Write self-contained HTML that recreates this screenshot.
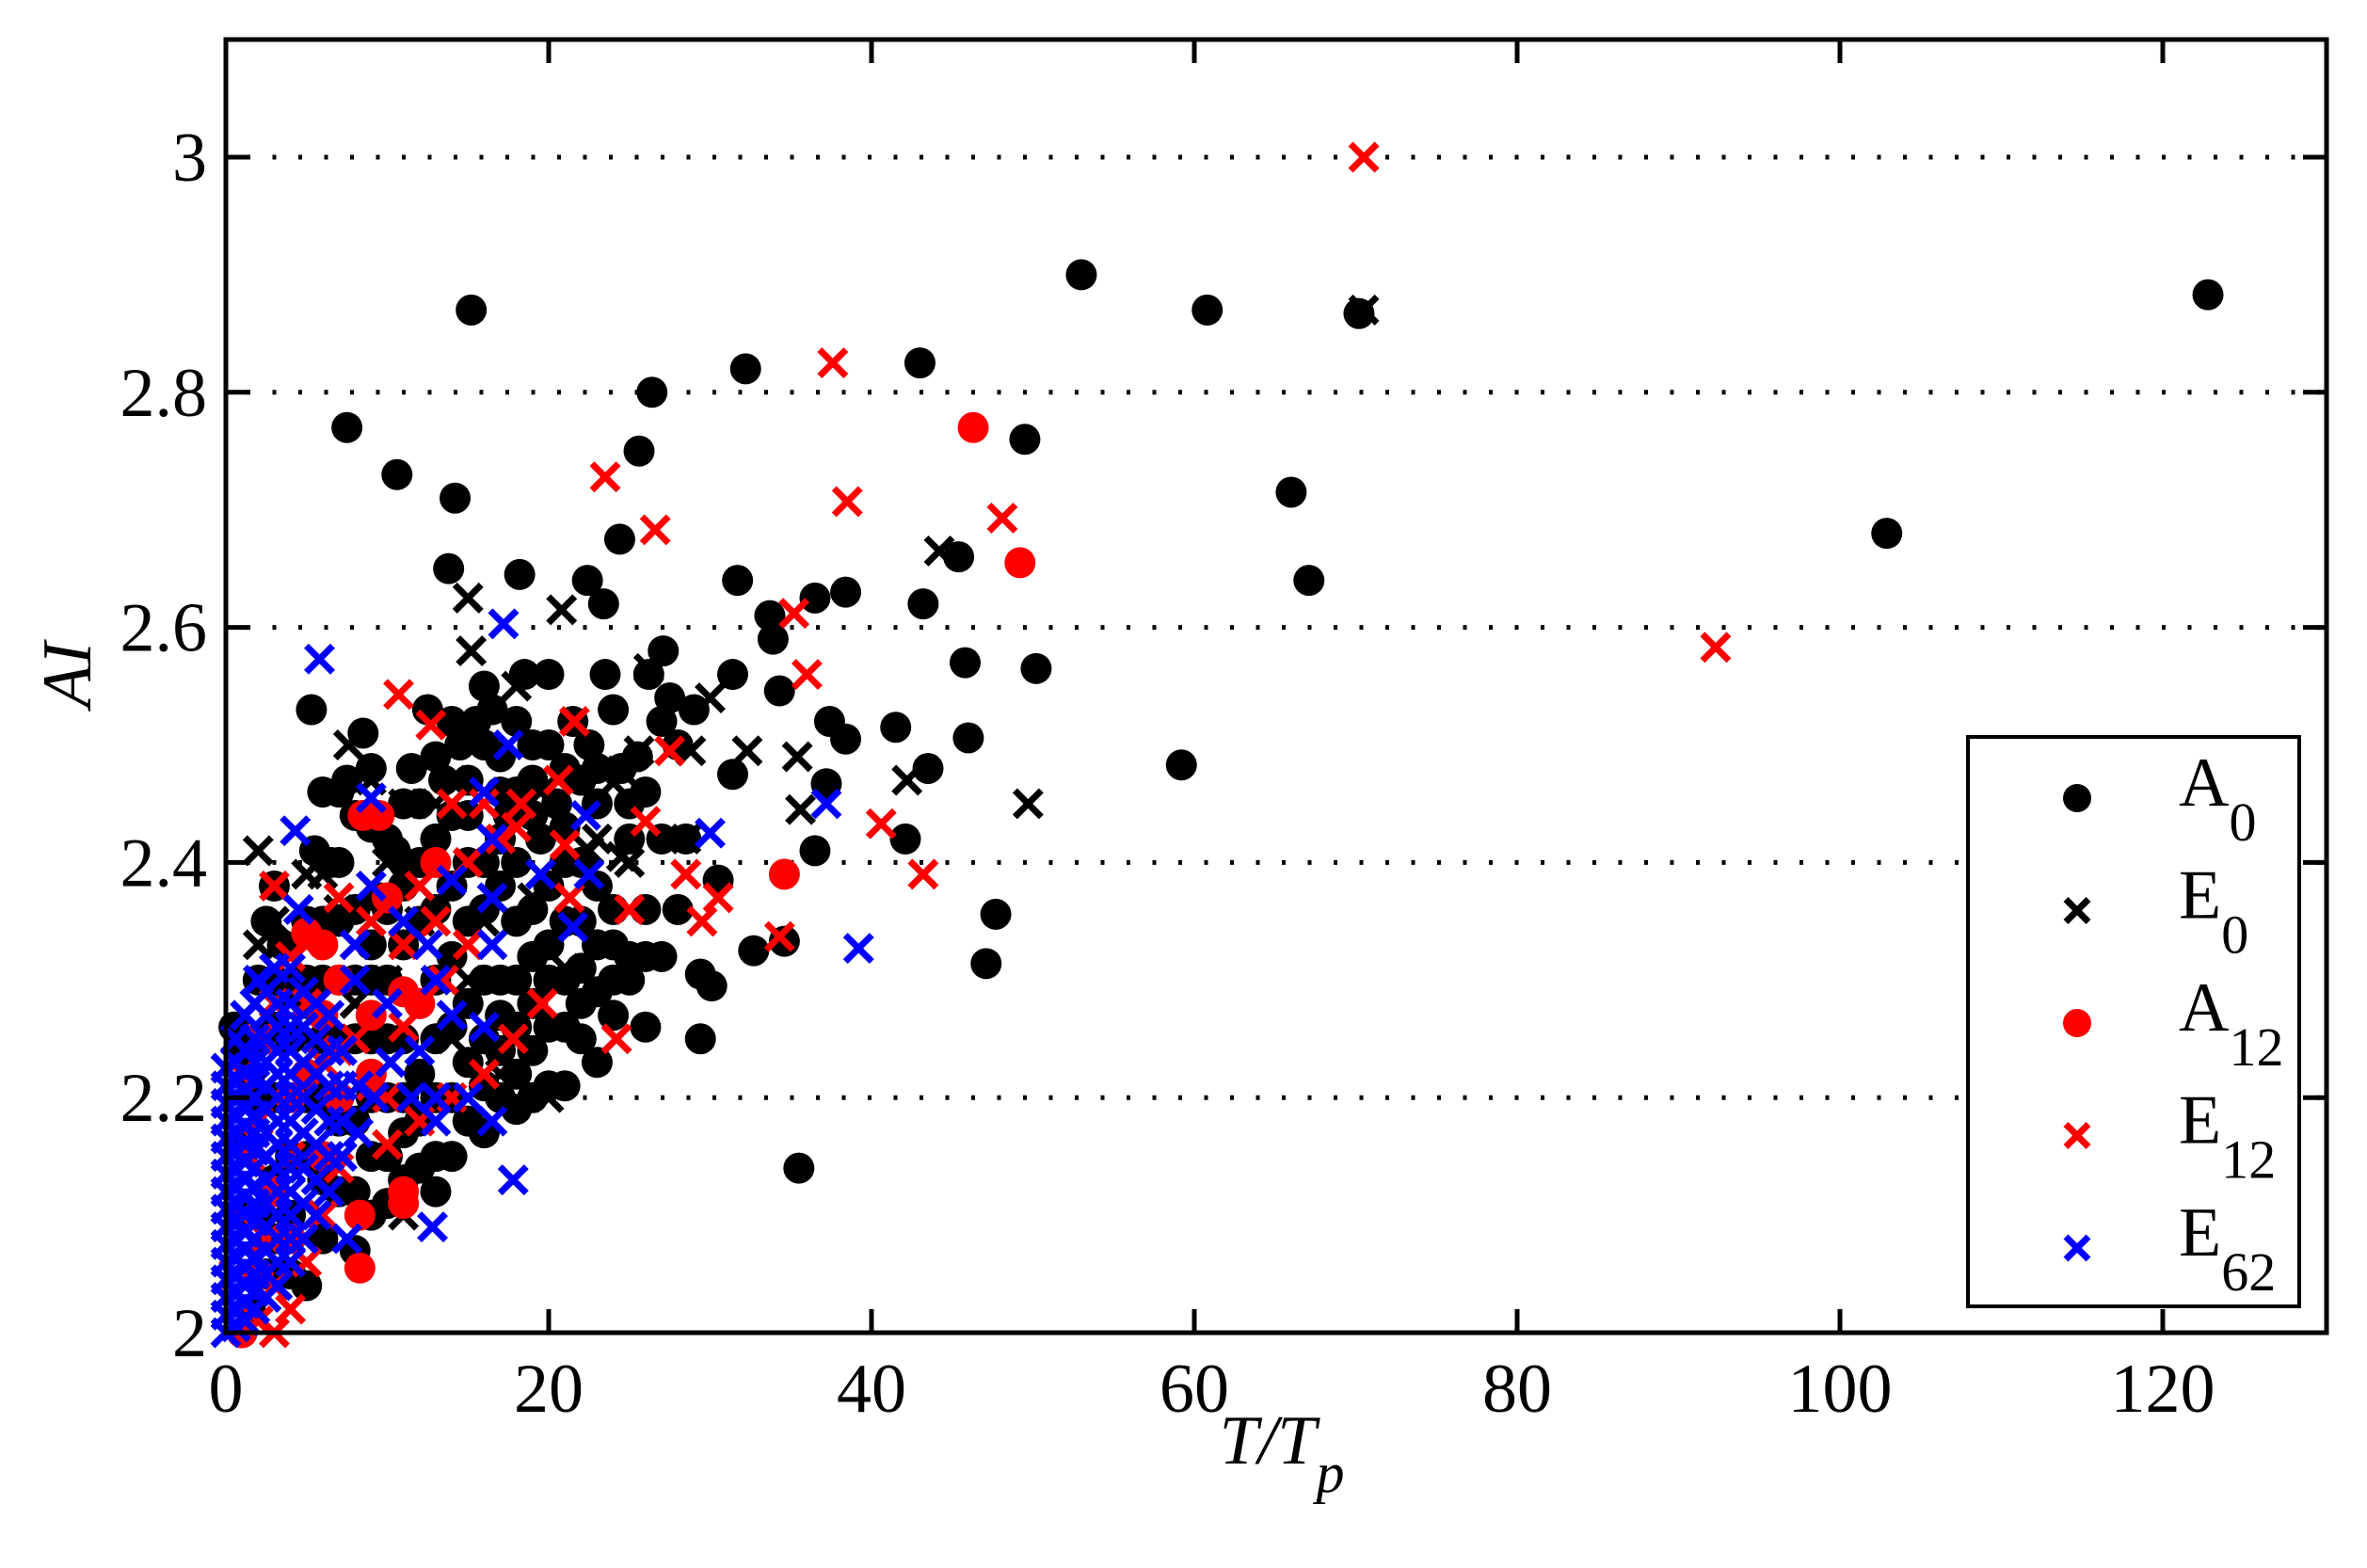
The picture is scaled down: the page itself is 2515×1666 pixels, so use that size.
<!DOCTYPE html>
<html><head><meta charset="utf-8"><style>
html,body{margin:0;padding:0;background:#fff;}
svg{display:block;font-family:"Liberation Serif",serif;}
</style></head><body>
<svg id="chart" width="2515" height="1666" viewBox="0 0 2515 1666" xmlns="http://www.w3.org/2000/svg">
<rect x="0" y="0" width="2515" height="1666" fill="#fff"/>
<g id="grid"></g>
<g id="marks"></g>
<g id="axes"></g>
<text x="1362" y="1555" font-size="74" font-style="italic" text-anchor="middle">T/T<tspan font-size="60" dy="30">p</tspan></text>
<text transform="translate(96,717) rotate(-90)" font-size="74" font-style="italic" text-anchor="middle">AI</text>
<g id="legend"></g>
</svg>
<script>
const xTicks=[0,20,40,60,80,100,120];
const yTicks=[2,2.2,2.4,2.6,2.8,3];
const yTickLabels=["2","2.2","2.4","2.6","2.8","3"];
const gridY=[2.2,2.4,2.6,2.8,3];
const seriesNames=["A","E","A","E","E"];
const seriesSubs=["0","0","12","12","62"];
const A0=[[15.2,2.87],[53,2.90],[60.8,2.87],[70.2,2.867],[122.8,2.883],[7.5,2.77],[10.6,2.73],[14.2,2.71],[26.4,2.80],[32.2,2.82],[43,2.825],[25.6,2.75],[24.4,2.675],[49.5,2.76],[66,2.715],[67.1,2.64],[102.9,2.68],[13.8,2.65],[18.2,2.645],[22.4,2.64],[23.4,2.62],[31.7,2.64],[43.2,2.62],[38.4,2.63],[36.5,2.625],[45.4,2.66],[45.8,2.57],[50.2,2.565],[59.2,2.483],[46,2.506],[41.5,2.515],[43.5,2.48],[35.5,2.14],[47.1,2.314],[47.7,2.356],[42.1,2.42],[36.5,2.41],[34.3,2.546],[33.9,2.59],[33.7,2.61],[31.4,2.56],[37.4,2.52],[38.4,2.505],[37.2,2.467],[31.4,2.475],[29.4,2.25],[30.1,2.295],[29.4,2.305],[30.5,2.385],[32.7,2.325],[34.6,2.333],[27.1,2.58],[26.2,2.56],[5.3,2.53],
[0.5,2.26],[1,2.24],[1.5,2.22],[2,2.3],[2.5,2.35],[3,2.38],[3.5,2.33],[4,2.29],[4.5,2.3],[5,2.35],[5.5,2.41],[6,2.46],[6.5,2.4],[7,2.46],[7.5,2.47],[8,2.44],[8.5,2.51],[9,2.48],[9.5,2.37],[10,2.42],[10.5,2.41],[11,2.38],[11.5,2.48],[12,2.45],[12.5,2.53],[13,2.49],[13.5,2.47],[14,2.52],[14.5,2.5],[15,2.47],[15.5,2.52],[16,2.55],[16.5,2.53],[17,2.49],[17.5,2.44],[18,2.46],[18.5,2.56],[19,2.5],[19.5,2.42],[20,2.56],[20.5,2.45],[21,2.43],[21.5,2.52],[22,2.47],[22.5,2.5],[23,2.45],[23.5,2.56],[24,2.53],[24.5,2.48],[25,2.42],[25.5,2.49],[26,2.46],[27,2.52],[27.5,2.54],[28,2.5],[28.5,2.42],[29,2.53],
[2,2.1],[3,2.13],[4,2.05],[5,2.04],[6,2.08],[7,2.12],[8,2.07],[9,2.15],[10,2.11],[11,2.17],[12,2.14],[13,2.15],[14,2.2],[15,2.18],[16,2.21],[17,2.24],[18,2.19],[19,2.2],[20,2.21],[21,2.26],[22,2.25],[23,2.23],[24,2.27],[25,2.3],[26,2.26],[27,2.32],[28,2.36],[20,2.33],[22,2.31],[24,2.33],[25,2.32],[26,2.32],
[3,2.2],[4,2.25],[5,2.28],[6,2.3],[7,2.35],[8,2.3],[9,2.33],[10,2.3],[11,2.25],[12,2.35],[13,2.3],[14,2.38],[15,2.35],[16,2.3],[17,2.38],[18,2.35],[19,2.32],[20,2.38],[21,2.35],[22,2.4],[23,2.38],[12,2.22],[14,2.26],[16,2.4],[18,2.26],[19,2.28],[17,2.3],[6,2.2],[8,2.18],[10,2.2],[13,2.42],[15,2.4],[11,2.4],[9,2.25],[7,2.25],[5,2.15],[4,2.15],[1,2.1],[2,2.2],[3,2.26],[1,2.16],[2.5,2.05],[1.5,2.02],
[15,2.28],[16,2.25],[17,2.27],[18,2.3],[19,2.36],[20,2.3],[21,2.3],[22,2.35],[23,2.33],[24,2.36],[21,2.4],[19,2.44],[17,2.42],[15,2.44],[13,2.36],[11,2.33],[9,2.3],[10,2.25],[12,2.28],[14,2.32],[16,2.36],[18,2.4],[20,2.26],[22,2.28],[19,2.24],[17,2.2],[15,2.23],[13,2.25],[11,2.2],[9,2.1],[7,2.18],[8,2.25],[6,2.25],[5,2.2],[4,2.1],[3,2.08],[10,2.15],[12,2.18],[14,2.15],[13,2.12],[16,2.17],[18,2.22],[21,2.21],[23,2.29],[24,2.3],[26,2.36],[27,2.42],[25,2.45],[23,2.48],[21,2.48],[19,2.47],[17,2.46],[12,2.4],[10,2.36],[8,2.36],[7,2.4],[9,2.43],[11,2.45],[14,2.44],[16,2.5],[18,2.52],[20,2.5],[6,2.35],[5,2.3],[3,2.3],[2,2.25],[6,2.13],[8,2.12],[9,2.2],[11,2.13],[7,2.3],[13,2.2]];
const E0=[[15,2.625],[20.8,2.615],[15.2,2.58],[44.2,2.665],[70.5,2.87],[49.7,2.45],[42.2,2.47],[35.6,2.445],[35.4,2.49],[32.3,2.495],[28.8,2.495],[28.5,2.42],[26.2,2.565],[25.6,2.495],[24.5,2.478],[24,2.468],[2,2.41],[7.6,2.5],[5,2.39],[14,2.47],[18,2.55],[19.5,2.46],[22.5,2.41],[24.5,2.405],[2,2.33],[4,2.3],[7,2.36],[10,2.3],[14,2.25],[20,2.2],[11,2.1],[18,2.26],[6,2.39],[9,2.47],[12,2.35],[16,2.35],[13,2.45],[25,2.4],[30,2.54],[23,2.42],[3,2.28],[5,2.25],[8,2.28],[10,2.4],[15,2.3],[17,2.22],[19,2.37],[21,2.31],[11,2.45],[3,2.35]];
const A12=[[46.3,2.77],[49.2,2.655],[34.6,2.39],[8.5,2.44],[9.5,2.44],[8.3,2.1],[8.3,2.055],[11,2.12],[11,2.11],[6,2.33],[13,2.4],[9,2.22],[10,2.37],[7,2.3],[5,2.34],[11,2.29],[4,2.2],[3,2.12],[2,2.05],[1,2.0],[12,2.28],[6,2.15],[9,2.27],[5,2.22],[7,2.2],[6,2.27],[4,2.08]];
const E12=[[70.5,3.0],[92.3,2.583],[37.6,2.825],[23.5,2.728],[26.6,2.683],[38.5,2.707],[48.1,2.693],[35.2,2.612],[36,2.56],[10.7,2.543],[12.7,2.517],[21.6,2.52],[20.6,2.47],[27.5,2.495],[28.5,2.39],[29.5,2.35],[30.5,2.37],[40.6,2.433],[43.2,2.39],[34.3,2.337],[24.2,2.25],[25,2.36],[26,2.435],[17.8,2.25],[18.3,2.45],[19.6,2.28],[21.3,2.37],[21,2.415],[14,2.45],[13.5,2.3],[16,2.22],[12,2.18],[10,2.16],[8,2.25],[7,2.37],[5,2.28],[3,2.38],[2,2.25],[4,2.15],[6,2.1],[3,2.0],[9,2.35],[11,2.33],[15,2.4],[17,2.42],[18,2.43],[1,2.1],[2,2.18],[5,2.33],[6,2.23],[8,2.33],[10,2.2],[12,2.38],[14,2.2],[16,2.45],[1,2.22],[3,2.28],[7,2.14],[9,2.21],[4,2.32],[0.5,2.05],[1.5,2.15],[2.5,2.08],[4,2.02],[2,2.01],[5,2.06],[3,2.04],[7,2.24],[11,2.26],[13,2.35],[15,2.33]];
const E62=[[5.8,2.573],[17.2,2.603],[4.3,2.427],[37.2,2.45],[39.2,2.327],[30,2.425],[17.8,2.13],[12.8,2.09],[22.3,2.44],[17.5,2.5],[9,2.455],[16,2.46],[16.5,2.42],[19.5,2.39],[22.5,2.39],[21.5,2.345],[16.5,2.37],[14,2.385],[12.5,2.33],[11,2.35],[13,2.3],[14,2.27],[16,2.26],[16.5,2.33],[15,2.2],[13,2.18],[12,2.24],[10,2.28],[9,2.38],[8,2.3],[7.5,2.08],[8,2.33],[11.5,2.2],[13,2.2],[16.5,2.18],
[0,2.0],[0,2.015],[0,2.03],[0,2.045],[0,2.06],[0,2.075],[0,2.09],[0,2.105],[0,2.12],[0,2.135],[0,2.15],[0,2.165],[0,2.18],[0,2.195],[0,2.21],[0,2.225],
[0.6,2.005],[0.6,2.02],[0.6,2.035],[0.6,2.05],[0.6,2.065],[0.6,2.08],[0.6,2.095],[0.6,2.11],[0.6,2.125],[0.6,2.14],[0.6,2.155],[0.6,2.17],[0.6,2.185],[0.6,2.2],[0.6,2.215],[0.6,2.23],[0.6,2.25],
[1.2,2.01],[1.2,2.025],[1.2,2.04],[1.2,2.055],[1.2,2.07],[1.2,2.085],[1.2,2.1],[1.2,2.115],[1.2,2.13],[1.2,2.145],[1.2,2.16],[1.2,2.175],[1.2,2.19],[1.2,2.205],[1.2,2.22],[1.2,2.24],[1.2,2.27],
[1.8,2.02],[1.8,2.035],[1.8,2.05],[1.8,2.065],[1.8,2.08],[1.8,2.095],[1.8,2.11],[1.8,2.125],[1.8,2.14],[1.8,2.155],[1.8,2.17],[1.8,2.185],[1.8,2.2],[1.8,2.215],[1.8,2.23],[1.8,2.25],[1.8,2.28],
[2.5,2.03],[2.5,2.05],[2.5,2.07],[2.5,2.09],[2.5,2.11],[2.5,2.13],[2.5,2.15],[2.5,2.17],[2.5,2.19],[2.5,2.21],[2.5,2.23],[2.5,2.25],[2.5,2.27],[2.5,2.29],
[3.2,2.04],[3.2,2.06],[3.2,2.08],[3.2,2.1],[3.2,2.12],[3.2,2.14],[3.2,2.16],[3.2,2.18],[3.2,2.2],[3.2,2.22],[3.2,2.24],[3.2,2.26],[3.2,2.28],
[4,2.06],[4,2.08],[4,2.1],[4,2.12],[4,2.14],[4,2.16],[4,2.18],[4,2.2],[4,2.22],[4,2.24],[4,2.26],[4,2.28],[4,2.31],
[4.8,2.08],[4.8,2.11],[4.8,2.14],[4.8,2.17],[4.8,2.2],[4.8,2.23],[4.8,2.26],[4.8,2.29],
[5.6,2.1],[5.6,2.13],[5.6,2.16],[5.6,2.19],[5.6,2.22],[5.6,2.25],[5.6,2.28],
[6.4,2.12],[6.4,2.15],[6.4,2.18],[6.4,2.21],[6.4,2.24],[6.4,2.27],
[7.2,2.15],[7.2,2.18],[7.2,2.21],[7.2,2.24],[8.2,2.17],[8.2,2.21],[9.2,2.2],[10.2,2.23],[4.5,2.36],[3,2.31],[2,2.3]];

const NS="http://www.w3.org/2000/svg";
const X0=240,XPU=17.15,Y2=1416,YPU=1249,LEFT=240,RIGHT=2472,TOP=42,BOT=1416;
function sx(v){return X0+v*XPU;}
function sy(v){return Y2-(v-2)*YPU;}
function mk(tag,attrs,parent){const e=document.createElementNS(NS,tag);for(const k in attrs)e.setAttribute(k,attrs[k]);parent.appendChild(e);return e;}
const grid=document.getElementById('grid'),marks=document.getElementById('marks'),axes=document.getElementById('axes'),legend=document.getElementById('legend');

gridY.forEach(v=>{const l=mk('line',{x1:LEFT+22,x2:RIGHT,y1:sy(v),y2:sy(v),stroke:'#000','stroke-width':5,'stroke-dasharray':'4 23.5'},grid);

});

function dot(p,color){const c=mk('circle',{cx:sx(p[0]),cy:sy(p[1]),r:16.5,fill:color},marks);

}
function cross(p,color){const x=sx(p[0]),y=sy(p[1]),h=14;const g=mk('path',{d:`M${x-h},${y-h}L${x+h},${y+h}M${x-h},${y+h}L${x+h},${y-h}`,stroke:color,'stroke-width':7,fill:'none'},marks);

}
A0.forEach(p=>dot(p,'#000'));
E0.forEach(p=>cross(p,'#000'));
A12.forEach(p=>dot(p,'#f00'));
E12.forEach(p=>cross(p,'#f00'));
E62.forEach(p=>cross(p,'#00f'));

const fr=mk('rect',{x:LEFT,y:TOP,width:RIGHT-LEFT,height:BOT-TOP,fill:'none',stroke:'#000','stroke-width':5},axes);


xTicks.forEach(v=>{const x=sx(v);
mk('line',{x1:x,x2:x,y1:BOT,y2:BOT-25,stroke:'#000','stroke-width':5},axes);
mk('line',{x1:x,x2:x,y1:TOP,y2:TOP+25,stroke:'#000','stroke-width':5},axes);
const t=mk('text',{x:x,y:1500,'font-size':74,'text-anchor':'middle'},axes);t.textContent=String(v);

});
yTicks.forEach((v,i)=>{const y=sy(v);
mk('line',{x1:LEFT,x2:LEFT+25,y1:y,y2:y,stroke:'#000','stroke-width':5},axes);
mk('line',{x1:RIGHT,x2:RIGHT-25,y1:y,y2:y,stroke:'#000','stroke-width':5},axes);
const t=mk('text',{x:220,y:y+25,'font-size':74,'text-anchor':'end'},axes);t.textContent=yTickLabels[i];

});

const lb=mk('rect',{x:2091,y:783,width:352,height:605,fill:'#fff',stroke:'#000','stroke-width':4},legend);


const colors=['#000','#000','#f00','#f00','#00f'];
const types=['dot','cross','dot','cross','cross'];
for(let i=0;i<5;i++){const y=848+i*119.5;const g=mk('g',{},legend);


if(types[i]==='dot')mk('circle',{cx:2207,cy:y,r:15,fill:colors[i]},g);
else mk('path',{d:`M${2207-12},${y-12}L${2207+12},${y+12}M${2207-12},${y+12}L${2207+12},${y-12}`,stroke:colors[i],'stroke-width':7},g);
const t=mk('text',{x:2315,y:y+8,'font-size':74},g);
t.textContent=seriesNames[i];
const s=mk('tspan',{'font-size':58,dy:37},t);s.textContent=seriesSubs[i];}
</script>
</body></html>
